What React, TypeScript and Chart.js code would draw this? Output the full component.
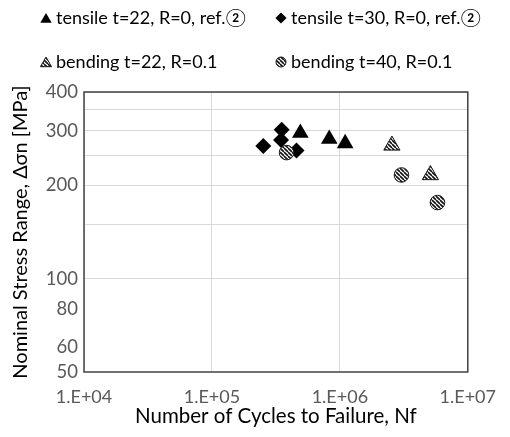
import React, { useEffect, useRef } from 'react';
import { Chart, registerables } from 'chart.js';

Chart.register(...registerables);

const seriesLabels = [
  'tensile t=22, R=0, ref.②',
  'tensile t=30, R=0, ref.②',
  'bending t=22, R=0.1',
  'bending t=40, R=0.1',
];

const tensile22Cycles = [4.91e5, 8.26e5, 1.1e6];
const tensile22Stress = [295, 282, 273];
const tensile30Cycles = [2.52e5, 3.51e5, 3.47e5, 4.58e5];
const tensile30Stress = [268, 302, 280, 259];
const bending22Cycles = [2.55e6, 5.1e6];
const bending22Stress = [269, 216];
const bending40Cycles = [3.83e5, 3.03e6, 5.79e6];
const bending40Stress = [255, 216, 176];

const xTickValues = [1e4, 1e5, 1e6, 1e7];
const xTickLabels = ['1.E+04', '1.E+05', '1.E+06', '1.E+07'];
const yTickValues = [50, 60, 80, 100, 200, 300, 400];
const yGridValues = [100, 150, 200, 250, 300, 350, 400];

const xTitle = 'Number of Cycles to Failure, Nf';
const yTitle = 'Nominal Stress Range, Δσn [MPa]';

const FONT = 'Lato, "DejaVu Sans", sans-serif';

function pairs(xs: number[], ys: number[]) {
  return xs.map((x, i) => ({ x, y: ys[i] }));
}

function makeHatch(): CanvasPattern | string {
  const c = document.createElement('canvas');
  const s = 4;
  c.width = s;
  c.height = s;
  const g = c.getContext('2d');
  if (!g) return '#666';
  g.fillStyle = '#ffffff';
  g.fillRect(0, 0, s, s);
  g.strokeStyle = '#111111';
  g.lineWidth = 1.6;
  g.beginPath();
  for (const off of [-s, 0, s]) {
    g.moveTo(off, 0);
    g.lineTo(off + s, s);
  }
  g.stroke();
  const p = g.createPattern(c, 'repeat');
  return p || '#666';
}

function drawMarker(ctx: CanvasRenderingContext2D, style: string, x: number, y: number, r: number, fill: any, stroke: string | null) {
  ctx.beginPath();
  if (style === 'triangle') {
    ctx.moveTo(x, y - r);
    ctx.lineTo(x + r * 0.866, y + r / 2);
    ctx.lineTo(x - r * 0.866, y + r / 2);
    ctx.closePath();
  } else if (style === 'rectRot') {
    ctx.moveTo(x, y - r);
    ctx.lineTo(x + r, y);
    ctx.lineTo(x, y + r);
    ctx.lineTo(x - r, y);
    ctx.closePath();
  } else {
    ctx.arc(x, y, r, 0, Math.PI * 2);
  }
  ctx.fillStyle = fill;
  ctx.fill();
  if (stroke) {
    ctx.strokeStyle = stroke;
    ctx.lineWidth = 1;
    ctx.stroke();
  }
}

export default function App() {
  const ref = useRef<HTMLCanvasElement>(null);

  useEffect(() => {
    if (!ref.current) return;
    const hatch = makeHatch();

    const legendSpec = [
      { style: 'triangle', r: 6.6, fill: '#000', stroke: null, col: 0, row: 0 },
      { style: 'rectRot', r: 5.6, fill: '#000', stroke: null, col: 1, row: 0 },
      { style: 'triangle', r: 6.4, fill: hatch, stroke: '#111', col: 0, row: 1 },
      { style: 'circle', r: 5, fill: hatch, stroke: '#111', col: 1, row: 1 },
    ];

    const frameAndLegend = {
      id: 'frameAndLegend',
      beforeDatasetsDraw(chart: any) {
        const { ctx, chartArea } = chart;
        ctx.save();
        ctx.strokeStyle = '#404040';
        ctx.lineWidth = 1.5;
        ctx.strokeRect(chartArea.left, chartArea.top, chartArea.right - chartArea.left, chartArea.bottom - chartArea.top);
        ctx.restore();
      },
      afterDraw(chart: any) {
        const { ctx } = chart;
        const colMarkerX = [46, 281];
        const colTextX = [56, 291];
        const rowY = [18, 62];
        ctx.save();
        legendSpec.forEach((it, i) => {
          drawMarker(ctx, it.style, colMarkerX[it.col], rowY[it.row] + (it.style === 'triangle' ? 1.5 : 0), it.r, it.fill, it.stroke);
          ctx.fillStyle = '#000';
          ctx.font = `18px ${FONT}`;
          ctx.textBaseline = 'middle';
          ctx.textAlign = 'left';
          ctx.fillText(seriesLabels[i], colTextX[it.col], rowY[it.row]);
        });
        ctx.restore();
      },
    };

    const chart = new Chart(ref.current, {
      type: 'scatter',
      data: {
        datasets: [
          {
            label: seriesLabels[0],
            data: pairs(tensile22Cycles, tensile22Stress),
            pointStyle: 'triangle',
            pointRadius: 9.6,
            backgroundColor: '#000',
            borderColor: '#000',
            borderWidth: 0,
            order: 3,
          },
          {
            label: seriesLabels[1],
            data: pairs(tensile30Cycles, tensile30Stress),
            pointStyle: 'rectRot',
            pointRadius: 8,
            backgroundColor: '#000',
            borderColor: '#000',
            borderWidth: 0,
            order: 2,
          },
          {
            label: seriesLabels[2],
            data: pairs(bending22Cycles, bending22Stress),
            pointStyle: 'triangle',
            pointRadius: 9.4,
            backgroundColor: hatch as any,
            borderColor: '#1a1a1a',
            borderWidth: 1,
            order: 1,
          },
          {
            label: seriesLabels[3],
            data: pairs(bending40Cycles, bending40Stress),
            pointStyle: 'circle',
            pointRadius: 7.3,
            backgroundColor: hatch as any,
            borderColor: '#1a1a1a',
            borderWidth: 1,
            order: 0,
          },
        ],
      },
      options: {
        responsive: false,
        animation: false,
        devicePixelRatio: 1,
        layout: { padding: { top: 92, right: 28, left: 0, bottom: 0 } },
        plugins: {
          legend: { display: false },
          tooltip: { enabled: false },
        },
        scales: {
          x: {
            type: 'logarithmic',
            min: 1e4,
            max: 1e7,
            afterBuildTicks: (scale: any) => {
              scale.ticks = xTickValues.map((v) => ({ value: v }));
            },
            afterFit: (scale: any) => {
              scale.height = 65;
            },
            ticks: {
              autoSkip: false,
              maxRotation: 0,
              padding: 14,
              color: '#595959',
              font: { family: FONT, size: 18 },
              callback: (v: any) => {
                const i = xTickValues.indexOf(Number(v));
                return i >= 0 ? xTickLabels[i] : '';
              },
            },
            grid: { color: '#d9d9d9', lineWidth: 1, drawTicks: false },
            border: { display: false },
            title: {
              display: true,
              text: xTitle,
              color: '#000',
              font: { family: FONT, size: 20.5 },
              padding: { top: 0, bottom: 8 },
            },
          },
          y: {
            type: 'logarithmic',
            min: 50,
            max: 400,
            afterBuildTicks: (scale: any) => {
              const all = Array.from(new Set([...yTickValues, ...yGridValues])).sort((a, b) => a - b);
              scale.ticks = all.map((v) => ({ value: v }));
            },
            afterFit: (scale: any) => {
              scale.width = 84;
            },
            ticks: {
              autoSkip: false,
              padding: 6,
              color: '#595959',
              font: { family: FONT, size: 18.5 },
              callback: (v: any) => (yTickValues.includes(Number(v)) ? String(v) : ''),
            },
            grid: {
              color: (ctx: any) => (ctx.tick && yGridValues.includes(ctx.tick.value) ? '#d9d9d9' : 'rgba(0,0,0,0)'),
              lineWidth: 1,
              drawTicks: false,
            },
            border: { display: false },
            title: {
              display: true,
              text: yTitle,
              color: '#000',
              font: { family: FONT, size: 20 },
              padding: { top: 9, bottom: 0 },
            },
          },
        },
      },
      plugins: [frameAndLegend],
    });

    return () => chart.destroy();
  }, []);

  return (
    <div style={{ position: 'absolute', left: 0, top: 0, width: 510, height: 437, background: '#fff' }}>
      <canvas ref={ref} width={510} height={437} />
    </div>
  );
}
